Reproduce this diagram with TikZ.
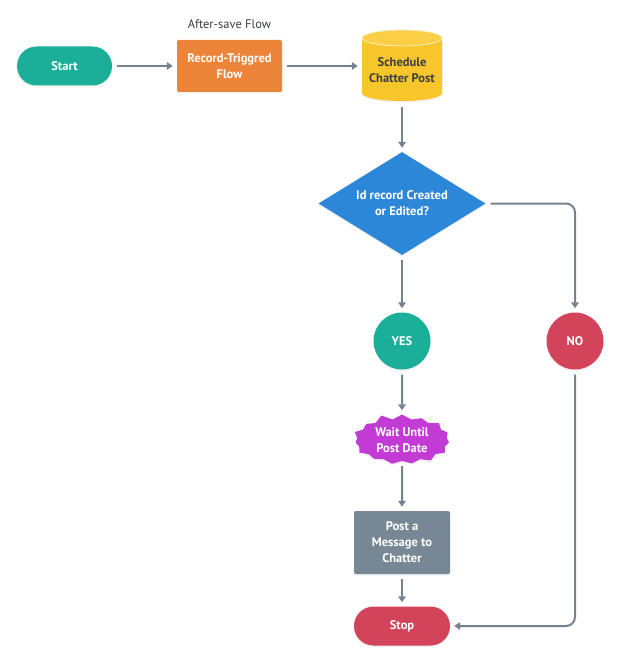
\documentclass[tikz,border=0pt]{standalone}
\usepackage{fontspec}
\setmainfont{PT Sans}
\usetikzlibrary{shapes.geometric,shapes.symbols,arrows.meta,shadows}
\definecolor{cTeal}{HTML}{1BAF9A}
\definecolor{cOrange}{HTML}{EC843A}
\definecolor{cYellow}{HTML}{F8C62A}
\definecolor{cYellowTop}{HTML}{FACF45}
\definecolor{cBlue}{HTML}{2D87D9}
\definecolor{cRed}{HTML}{D3435A}
\definecolor{cMagenta}{HTML}{C23BD4}
\definecolor{cGray}{HTML}{778795}
\definecolor{cLine}{HTML}{75838F}
\definecolor{cText}{HTML}{3A3F47}
\tikzset{
  lbl/.style={text=white,font=\bfseries\fontsize{12.5}{16}\selectfont,align=center,inner sep=0pt},
  shd/.style={drop shadow={opacity=0.12,shadow xshift=0pt,shadow yshift=-1.5pt}},
  stadium/.style={lbl,shd,rectangle,rounded corners=19.5pt,minimum width=95pt,minimum height=39pt},
  procbox/.style={lbl,shd,rectangle,rounded corners=2pt},
  conn/.style={draw=cLine,line width=2pt,-{Triangle[length=6pt,width=7.5pt]},shorten <=5pt,shorten >=4pt},
}
\begin{document}
\begin{tikzpicture}[x=1pt,y=-1pt]
\useasboundingbox (0,0) rectangle (620,663);
% nodes
\node[stadium,fill=cTeal] (start) at (64.5,66) {Start};
\node[procbox,fill=cOrange,minimum width=105pt,minimum height=52pt] (rtf) at (229.5,66) {Record-Triggred\\Flow};
\node[text=cText,font=\fontsize{12.5}{15}\selectfont,inner sep=0pt] (aslbl) at (229.5,24) {After-save Flow};
% cylinder
\node[minimum width=80pt,minimum height=71pt,inner sep=0pt] (cyl) at (402,66) {};
\fill[cYellow,shd] (362,38) -- (362,93) arc[start angle=180,end angle=0,x radius=40,y radius=8] -- (442,38) arc[start angle=360,end angle=180,x radius=40,y radius=8] -- cycle;
\draw[fill=cYellowTop,draw=white!70!cYellow,line width=0.8pt] (402,38) ellipse[x radius=40,y radius=8];
\node[text=cText,font=\bfseries\fontsize{12.5}{16}\selectfont,align=center,inner sep=0pt] (cyltxt) at (402,70) {Schedule\\Chatter Post};
% decision
\node[lbl,shd,diamond,fill=cBlue,minimum width=167pt,minimum height=103pt,aspect=1.62] (dec) at (402,203.5) {Id record Created\\or Edited?};
\node[lbl,shd,circle,fill=cTeal,minimum size=57pt] (yes) at (402,341) {YES};
\node[lbl,shd,circle,fill=cRed,minimum size=57pt] (no) at (575,341) {NO};
\node[lbl,shd,starburst,fill=cMagenta,minimum width=102pt,minimum height=54pt,starburst points=15,starburst point height=6pt,random starburst=11] (wait) at (402,440) {Wait Until\\Post Date};
\node[procbox,fill=cGray,minimum width=96pt,minimum height=63pt] (post) at (402,542.5) {Post a\\Message to\\Chatter};
\node[stadium,fill=cRed,minimum width=96pt] (stop) at (402,626) {Stop};
% connectors
\draw[conn] (start) -- (rtf);
\draw[conn] (rtf.east) -- (cyl.west);
\draw[conn] (cyl.south) -- (dec.north);
\draw[conn] (dec.south) -- (yes.north);
\draw[conn,rounded corners=9pt] (dec.east) -| (no.north);
\draw[conn] (yes.south) -- (wait.north);
\draw[conn] (wait.south) -- (post.north);
\draw[conn] (post.south) -- (stop.north);
\draw[conn,rounded corners=9pt] (no.south) |- (stop.east);
\end{tikzpicture}
\end{document}
